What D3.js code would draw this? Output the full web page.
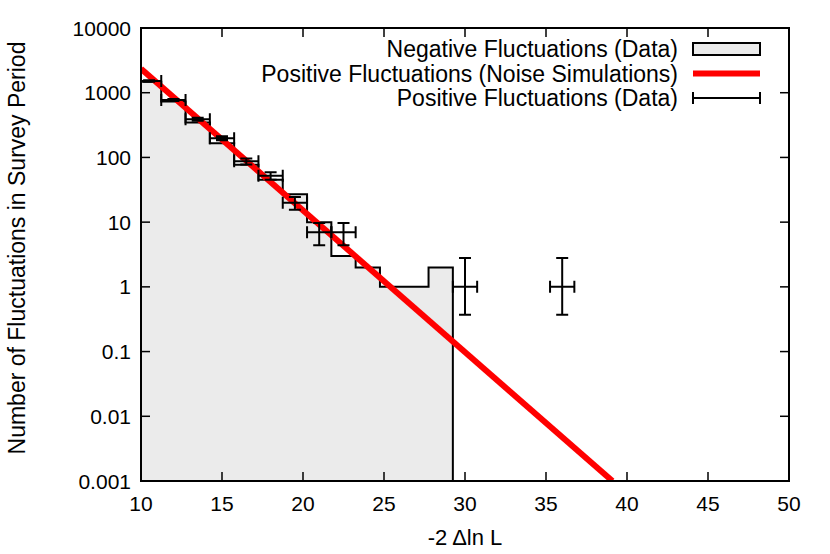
<!DOCTYPE html>
<html lang="en">
<head>
  <meta charset="UTF-8" />
  <title>Fluctuations</title>
  <script src="https://d3js.org/d3.v7.min.js"></script>
  <style>
    body { margin: 0; background: #fff; }
    svg text { font-family: "Liberation Sans", Arial, sans-serif; fill: #000; }
  </style>
</head>
<body>
  <div id="chart"></div>
  <script>
    // negative fluctuations histogram (bin centres, width 1.5)
    const negBinCenters = [10.5, 12, 13.5, 15, 16.5, 18, 19.5, 21, 22.5, 24, 25.5, 27, 28.5];
    const negCounts = [1480, 730, 345, 165, 77, 45, 27, 10, 3, 2, 1, 1, 2];
    const binWidth = 1.5;

    // positive fluctuations, data points with error bars
    const posX = [10.5, 12, 13.5, 15, 16.5, 18, 19.5, 21, 22.5, 30, 36];
    const posY = [1520, 770, 390, 198, 87, 52, 20, 7, 7, 1, 1];
    const posYLow = [1480, 742, 370, 184, 78, 45, 15.5, 4.4, 4.4, 0.37, 0.37];
    const posYHigh = [1560, 798, 410, 212, 96, 59, 24.5, 9.7, 9.7, 2.8, 2.8];
    const posXErr = [0.75, 0.75, 0.75, 0.75, 0.75, 0.75, 0.75, 0.75, 0.75, 0.75, 0.75];

    // noise simulation fit line (end points)
    const fitX = [10, 39.1];
    const fitY = [2350, 0.001];

    const xTicks = [10, 15, 20, 25, 30, 35, 40, 45, 50];
    const yTicks = [0.001, 0.01, 0.1, 1, 10, 100, 1000, 10000];
    const yTickLabels = ["0.001", "0.01", "0.1", "1", "10", "100", "1000", "10000"];

    const legendLabels = [
      "Negative Fluctuations (Data)",
      "Positive Fluctuations (Noise Simulations)",
      "Positive Fluctuations (Data)"
    ];

    const W = 830, H = 554;
    const margin = { top: 28, right: 41, bottom: 73, left: 141 };
    const width = W - margin.left - margin.right,
          height = H - margin.top - margin.bottom;

    const svg = d3.select("#chart").append("svg")
      .attr("width", W).attr("height", H);

    const g = svg.append("g")
      .attr("transform", `translate(${margin.left},${margin.top})`);

    const x = d3.scaleLinear().domain([10, 50]).range([0, width]);
    const y = d3.scaleLog().domain([0.001, 10000]).range([height, 0]);

    g.append("clipPath").attr("id", "clip")
      .append("rect").attr("width", width).attr("height", height);

    const plot = g.append("g").attr("clip-path", "url(#clip)");

    // histogram as steps
    const steps = [];
    negBinCenters.forEach((c, i) => {
      steps.push([c - binWidth / 2, negCounts[i]]);
      steps.push([c + binWidth / 2, negCounts[i]]);
    });
    const last = negBinCenters[negBinCenters.length - 1] + binWidth / 2;
    const area = d3.area()
      .x(d => x(d[0]))
      .y0(height)
      .y1(d => y(d[1]));
    plot.append("path")
      .datum(steps)
      .attr("fill", "#ebebeb")
      .attr("d", area);
    const outline = steps.concat([[last, 0.001]]);
    plot.append("path")
      .datum(outline)
      .attr("fill", "none")
      .attr("stroke", "#000")
      .attr("stroke-width", 2)
      .attr("d", d3.line().x(d => x(d[0])).y(d => y(d[1])));

    // fit line
    plot.append("path")
      .datum(fitX.map((v, i) => [v, fitY[i]]))
      .attr("fill", "none")
      .attr("stroke", "#ff0000")
      .attr("stroke-width", 6)
      .attr("d", d3.line().x(d => x(d[0])).y(d => y(d[1])));

    // error bars
    const cap = 6;
    const eb = plot.append("g")
      .attr("stroke", "#000")
      .attr("stroke-width", 2)
      .attr("fill", "none");
    posX.forEach((px, i) => {
      const cx = x(px), cy = y(posY[i]);
      const x0 = x(px - posXErr[i]), x1 = x(px + posXErr[i]);
      const y0 = y(posYLow[i]), y1 = y(posYHigh[i]);
      eb.append("path").attr("d",
        `M${x0},${cy}H${x1}` +
        `M${x0},${cy - cap}V${cy + cap}` +
        `M${x1},${cy - cap}V${cy + cap}` +
        `M${cx},${y0}V${y1}` +
        `M${cx - cap},${y0}H${cx + cap}` +
        `M${cx - cap},${y1}H${cx + cap}`);
    });

    // ticks (inward, mirrored)
    const tickLen = 9;
    const ticks = g.append("g").attr("stroke", "#000").attr("stroke-width", 1.5);
    xTicks.forEach(t => {
      ticks.append("line").attr("x1", x(t)).attr("x2", x(t)).attr("y1", height).attr("y2", height - tickLen);
      ticks.append("line").attr("x1", x(t)).attr("x2", x(t)).attr("y1", 0).attr("y2", tickLen);
    });
    yTicks.forEach(t => {
      ticks.append("line").attr("x1", 0).attr("x2", tickLen).attr("y1", y(t)).attr("y2", y(t));
      ticks.append("line").attr("x1", width).attr("x2", width - tickLen).attr("y1", y(t)).attr("y2", y(t));
    });

    // frame
    g.append("rect")
      .attr("width", width).attr("height", height)
      .attr("fill", "none").attr("stroke", "#000").attr("stroke-width", 2);

    // tick labels
    g.selectAll(".xl").data(xTicks).join("text")
      .attr("x", d => x(d)).attr("y", height + 30)
      .attr("text-anchor", "middle")
      .style("font-size", "21px")
      .text(d => d);
    g.selectAll(".yl").data(yTicks).join("text")
      .attr("x", -10).attr("y", d => y(d))
      .attr("dy", "0.36em")
      .attr("text-anchor", "end")
      .style("font-size", "21px")
      .text((d, i) => yTickLabels[i]);

    // axis titles
    g.append("text")
      .attr("x", width / 2).attr("y", height + 64)
      .attr("text-anchor", "middle")
      .style("font-size", "22px")
      .text("-2 \u0394ln L");
    svg.append("text")
      .attr("transform", "translate(25,248) rotate(-90)")
      .attr("text-anchor", "middle")
      .style("font-size", "23px")
      .text("Number of Fluctuations in Survey Period");

    // legend
    const lg = svg.append("g");
    const rowY = [49, 73.5, 98];
    const sx0 = 693, sx1 = 760;
    legendLabels.forEach((t, i) => {
      lg.append("text")
        .attr("x", 678).attr("y", rowY[i])
        .attr("dy", "0.36em")
        .attr("text-anchor", "end")
        .style("font-size", "23px")
        .text(t);
    });
    lg.append("rect")
      .attr("x", sx0).attr("y", rowY[0] - 6)
      .attr("width", sx1 - sx0).attr("height", 12)
      .attr("fill", "#ebebeb").attr("stroke", "#000").attr("stroke-width", 2);
    lg.append("line")
      .attr("x1", sx0).attr("x2", sx1)
      .attr("y1", rowY[1]).attr("y2", rowY[1])
      .attr("stroke", "#ff0000").attr("stroke-width", 6);
    lg.append("path")
      .attr("d", `M${sx0},${rowY[2]}H${sx1}M${sx0},${rowY[2] - 6}V${rowY[2] + 6}M${sx1},${rowY[2] - 6}V${rowY[2] + 6}`)
      .attr("stroke", "#000").attr("stroke-width", 2).attr("fill", "none");
  </script>
</body>
</html>
